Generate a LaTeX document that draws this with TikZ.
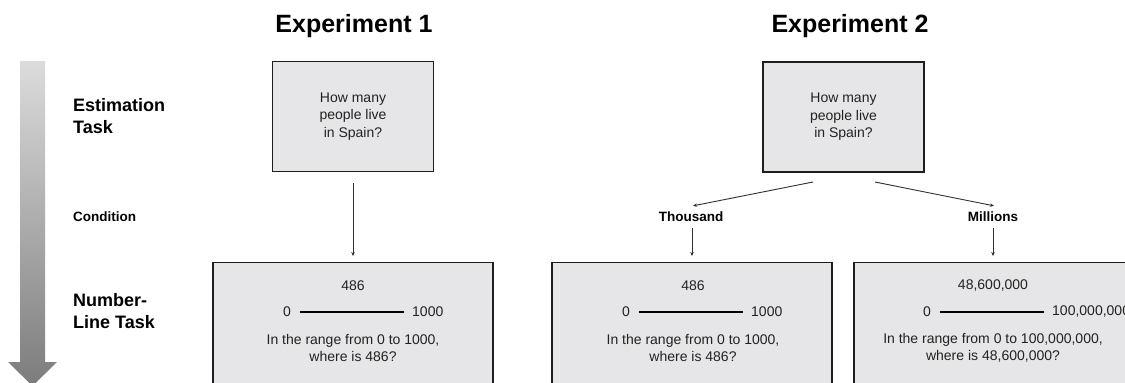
\documentclass[tikz,border=0pt]{standalone}
\usepackage{fontspec}
\setmainfont{Liberation Sans}
\usetikzlibrary{arrows.meta}
\definecolor{boxfill}{HTML}{E6E5E7}
\definecolor{boxline}{HTML}{1E1E1E}
\definecolor{txt}{HTML}{222222}
\definecolor{conncol}{HTML}{303030}
\definecolor{arrtop}{HTML}{DCDCDC}
\definecolor{arrbot}{HTML}{7C7C7C}
\tikzset{
  titlelab/.style={font=\bfseries\fontsize{25}{30}\selectfont, text=black, inner sep=0pt},
  sidelab/.style={font=\bfseries\fontsize{18}{22}\selectfont, text=black, align=left, inner sep=0pt, anchor=west},
  condlab/.style={font=\bfseries\fontsize{13.5}{16}\selectfont, text=black, inner sep=0pt},
  qbox/.style={draw=boxline, fill=boxfill, line width=1.4pt, minimum width=161pt, minimum height=110pt,
    font=\fontsize{14}{17.5}\selectfont, text=txt, align=center},
  nbox/.style={draw=boxline, fill=boxfill, line width=1.4pt, minimum width=280pt, minimum height=170pt, anchor=north},
  btxt/.style={font=\fontsize{14}{17}\selectfont, text=txt, align=center, inner sep=0pt},
  numline/.style={line width=2pt, black},
  conn/.style={draw=conncol, line width=0.9pt, -{Stealth[length=4pt,width=3.5pt]}},
}
\begin{document}
\begin{tikzpicture}[x=1pt,y=-1pt]
\useasboundingbox (0,0) rectangle (1125,383);
\clip (0,0) rectangle (1125,383);
\fill[white] (0,0) rectangle (1125,383);

% left gradient arrow
\shade[top color=arrtop, bottom color=arrbot]
  (20,61) -- (45,61) -- (45,362) -- (57,362) -- (32.5,386) -- (8,362) -- (20,362) -- cycle;

% side labels
\node[sidelab] (est) at (73,116) {Estimation\\Task};
\node[condlab, anchor=west] (cond) at (73,217) {Condition};
\node[sidelab] (nlt) at (73,311) {Number-\\Line Task};

% titles
\node[titlelab, anchor=base] (t1) at (354,32) {Experiment 1};
\node[titlelab, anchor=base] (t2) at (850,32) {Experiment 2};

% Experiment 1
\node[qbox] (q1) at (353,116.5) {How many\\people live\\in Spain?};
\node[nbox] (n1) at (353,262) {};
\node[btxt] (n1v) at (353,286) {486};
\node[btxt, anchor=east] (n1a) at (291,312) {0};
\node[btxt, anchor=west] (n1b) at (412,312) {1000};
\draw[numline, shorten <=9pt, shorten >=8pt] (n1a) -- (n1b);
\node[btxt] (n1q) at (353,347.5) {In the range from 0 to 1000,\\where is 486?};
\draw[conn, shorten <=11pt, shorten >=6pt] (q1.south) -- (n1.north);

% Experiment 2
\node[qbox] (q2) at (843.5,117) {How many\\people live\\in Spain?};
\coordinate (q2l) at (813,182);
\coordinate (q2r) at (875,182);
\node[condlab] (thou) at (691,217) {Thousand};
\node[condlab] (mill) at (993,217) {Millions};
\draw[conn] (q2l) -- ([xshift=2pt,yshift=6pt]thou.north);
\draw[conn] (q2r) -- ([xshift=1pt,yshift=6pt]mill.north);

\node[nbox] (n2) at (692,262) {};
\node[btxt] (n2v) at (693,286) {486};
\node[btxt, anchor=east] (n2a) at (630,312) {0};
\node[btxt, anchor=west] (n2b) at (751,312) {1000};
\draw[numline, shorten <=9pt, shorten >=8pt] (n2a) -- (n2b);
\node[btxt] (n2q) at (693,347.5) {In the range from 0 to 1000,\\where is 486?};
\draw[conn, shorten <=6pt, shorten >=6pt] ([xshift=1pt]thou.south) -- ([xshift=1pt]thou.south |- n2.north);

\node[nbox] (n3) at (994,262) {};
\node[btxt] (n3v) at (993,286) {48,600,000};
\node[btxt, anchor=east] (n3a) at (931,312) {0};
\node[btxt, anchor=west] (n3b) at (1052,312) {100,000,000};
\draw[numline, shorten <=9pt, shorten >=8pt] (n3a) -- (n3b);
\node[btxt] (n3q) at (993,347.5) {In the range from 0 to 100,000,000,\\where is 48,600,000?};
\draw[conn, shorten <=6pt, shorten >=6pt] (mill.south) -- (mill.south |- n3.north);
\end{tikzpicture}
\end{document}
